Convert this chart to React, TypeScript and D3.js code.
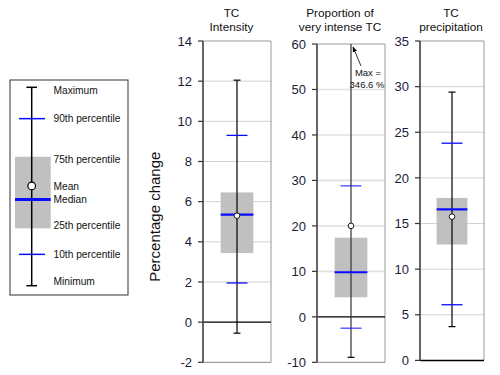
import React from "react";
import * as d3 from "d3";

// ---- data ----
const titles: string[][] = [["TC", "Intensity"], ["Proportion of", "very intense TC"], ["TC", "precipitation"]];
const minimums = [-0.55, -8.9, 3.7];
const p10s = [1.95, -2.5, 6.1];
const p25s = [3.44, 4.3, 12.7];
const medians = [5.35, 9.8, 16.55];
const means = [5.3, 20.0, 15.75];
const p75s = [6.46, 17.4, 17.8];
const p90s = [9.3, 28.8, 23.8];
const maximums = [12.05, 346.6, 29.4];
const domains: [number, number][] = [[-2, 14], [-10, 60], [0, 35]];
const tickSteps = [2, 10, 5];
const maxNote = ["Max =", "346.6 %"];

const legendLabels = ["Maximum", "90th percentile", "75th percentile", "Mean", "Median", "25th percentile", "10th percentile", "Minimum"];
const legendValues = [100, 84.2, 65.0, 50.3, 43.5, 28.9, 15.8, 0]; // schematic positions

// ---- layout ----
const W = 500, H = 375;
const panelLeft = [203, 317, 420];
const panelRight = [271, 385, 484];
const panelTop = [41, 44, 41];
const panelBottom = [362.3, 362.3, 360.4];
const titleCenter = [231.5, 340, 451];
const FONT = "'Liberation Sans', Arial, sans-serif";
const BLUE = "#0a0aff";

function Panel({ i }: { i: number }) {
  const y = d3.scaleLinear().domain(domains[i]).range([panelBottom[i], panelTop[i]]);
  const x = d3.scaleBand<string>().domain([titles[i].join(" ")]).range([panelLeft[i], panelRight[i]]).padding(0.35);
  const bx = x(titles[i].join(" "))!;
  const bw = x.bandwidth();
  const cx = bx + bw / 2;
  const ticks = d3.range(domains[i][0], domains[i][1] + 0.001, tickSteps[i]);
  const [d0, d1] = domains[i];
  const maxV = Math.min(maximums[i], d1);
  const clipped = maximums[i] > d1;
  const pw = 10.5, cw = 3.5;
  return (
    <g>
      {/* title */}
      {titles[i].map((t, k) => (
        <text key={k} x={titleCenter[i]} y={16.5 + k * 14.5} textAnchor="middle" fontFamily={FONT} fontSize={11.8} fill="#111">{t}</text>
      ))}
      {/* gridlines */}
      {ticks.filter(t => t !== 0 && t !== d0 && t !== d1).map(t => (
        <line key={t} x1={panelLeft[i]} x2={panelRight[i]} y1={y(t)} y2={y(t)} stroke={i === 1 ? "#e2e2e2" : "#d2d2d2"} strokeWidth={i === 1 ? 1.6 : 1} />
      ))}
      {/* frame */}
      <line x1={panelLeft[i]} x2={panelRight[i]} y1={y(d1)} y2={y(d1)} stroke="#999" strokeWidth={1} />
      <line x1={panelRight[i]} x2={panelRight[i]} y1={y(d1)} y2={y(d0)} stroke="#999" strokeWidth={1} />
      <line x1={panelLeft[i]} x2={panelRight[i]} y1={y(d0)} y2={y(d0)} stroke={d0 === 0 ? "#000" : "#888"} strokeWidth={d0 === 0 ? 1.5 : 1} />
      {/* box */}
      <rect x={bx} width={bw} y={y(p75s[i])} height={y(p25s[i]) - y(p75s[i])} fill="#c0c0c0" />
      {/* zero line */}
      {d0 < 0 && <line x1={panelLeft[i]} x2={panelRight[i]} y1={y(0)} y2={y(0)} stroke="#000" strokeWidth={1.2} />}
      {/* whisker */}
      <line x1={cx} x2={cx} y1={y(minimums[i])} y2={y(maxV)} stroke={i === 1 ? "#333" : "#000"} strokeWidth={1.2} />
      <line x1={cx - cw} x2={cx + cw} y1={y(minimums[i])} y2={y(minimums[i])} stroke="#000" strokeWidth={1.2} />
      {!clipped && <line x1={cx - cw} x2={cx + cw} y1={y(maxV)} y2={y(maxV)} stroke="#000" strokeWidth={1.2} />}
      {/* percentiles */}
      <line x1={cx - pw} x2={cx + pw} y1={y(p90s[i])} y2={y(p90s[i])} stroke={BLUE} strokeWidth={1.3} opacity={i === 1 ? 0.75 : 1} />
      <line x1={cx - pw} x2={cx + pw} y1={y(p10s[i])} y2={y(p10s[i])} stroke={BLUE} strokeWidth={1.3} opacity={i === 1 ? 0.75 : 1} />
      <line x1={bx} x2={bx + bw} y1={y(medians[i])} y2={y(medians[i])} stroke={BLUE} strokeWidth={2.2} />
      <circle cx={cx} cy={y(means[i])} r={2.8} fill="#fff" stroke="#000" strokeWidth={0.9} />
      {/* axis */}
      <line x1={panelLeft[i]} x2={panelLeft[i]} y1={y(d1)} y2={y(d0)} stroke="#555" strokeWidth={1.8} />
      {ticks.map(t => (
        <g key={t}>
          <line x1={panelLeft[i] - 5} x2={panelLeft[i]} y1={y(t)} y2={y(t)} stroke="#333" strokeWidth={1.2} />
          <text x={panelLeft[i] - 11} y={y(t)} dy="0.36em" textAnchor="end" fontFamily={FONT} fontSize={13} fill="#1c1c38">{t}</text>
        </g>
      ))}
      {/* clipped max annotation */}
      {clipped && (
        <g>
          <line x1={cx + 10} y1={y(d1) + 22} x2={cx + 2} y2={y(d1) + 3} stroke="#000" strokeWidth={0.8} markerEnd="url(#arrow)" />
          <text x={cx + 17} y={y(d1) + 32} textAnchor="middle" fontFamily={FONT} fontSize={9.5} fill="#111">{maxNote[0]}</text>
          <text x={cx + 16} y={y(d1) + 44} textAnchor="middle" fontFamily={FONT} fontSize={9.5} fill="#111">{maxNote[1]}</text>
        </g>
      )}
    </g>
  );
}

function Legend() {
  const ly = d3.scaleLinear().domain([0, 100]).range([285.7, 87.3]);
  const v = (k: number) => ly(legendValues[k]);
  const cx = 31.7;
  const labelY = [90, 118.3, 159.3, 186.7, 199.3, 225.7, 254, 281.7];
  return (
    <g>
      <rect x={10} y={80} width={118} height={215} fill="#fff" stroke="#333" strokeWidth={1} />
      <rect x={15} width={35.7} y={v(2)} height={v(5) - v(2)} fill="#c0c0c0" />
      <line x1={cx} x2={cx} y1={v(7)} y2={v(0)} stroke="#000" strokeWidth={1.5} />
      <line x1={cx - 5.3} x2={cx + 5.3} y1={v(0)} y2={v(0)} stroke="#000" strokeWidth={1.5} />
      <line x1={cx - 5.3} x2={cx + 5.3} y1={v(7)} y2={v(7)} stroke="#000" strokeWidth={1.5} />
      <line x1={19} x2={45} y1={v(1)} y2={v(1)} stroke={BLUE} strokeWidth={1.5} />
      <line x1={19} x2={45} y1={v(6)} y2={v(6)} stroke={BLUE} strokeWidth={1.5} />
      <line x1={15} x2={50.7} y1={v(4)} y2={v(4)} stroke={BLUE} strokeWidth={3} />
      <circle cx={cx} cy={v(3)} r={3.8} fill="#fff" stroke="#000" strokeWidth={1.2} />
      {legendLabels.map((l, k) => (
        <text key={l} x={53.5} y={labelY[k]} dy="0.35em" fontFamily={FONT} fontSize={10.2} fill="#111">{l}</text>
      ))}
    </g>
  );
}

export default function App() {
  return (
    <div style={{ position: "absolute", left: 0, top: 0 }}>
      <svg width={W} height={H} style={{ display: "block", background: "#fff" }}>
        <defs>
          <marker id="arrow" viewBox="0 0 10 10" refX="9" refY="5" markerWidth="7" markerHeight="7" orient="auto-start-reverse">
            <path d="M0,1 L10,5 L0,9 z" fill="#000" />
          </marker>
        </defs>
        <Legend />
        <text transform="translate(160,216.7) rotate(-90)" textAnchor="middle" fontFamily={FONT} fontSize={15} fill="#111">Percentage change</text>
        {[0, 1, 2].map(i => <Panel key={i} i={i} />)}
      </svg>
    </div>
  );
}
